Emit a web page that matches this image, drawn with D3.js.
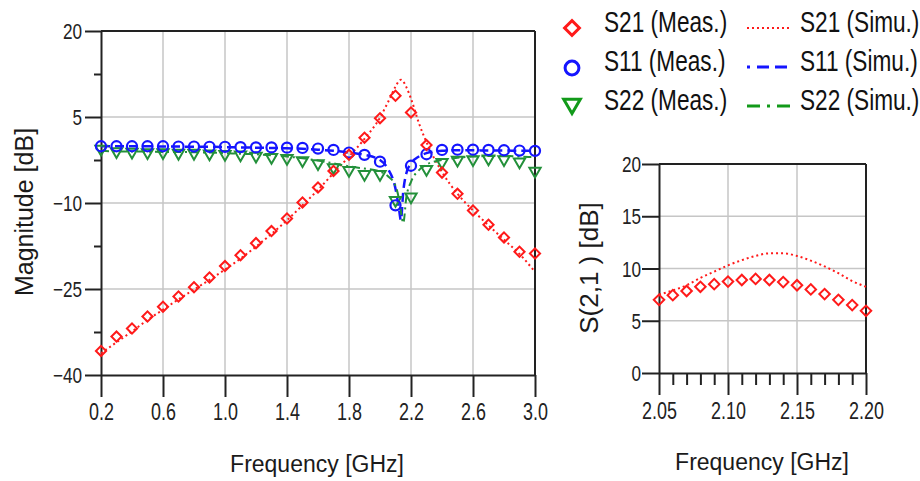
<!DOCTYPE html>
<html><head><meta charset="utf-8">
<script src="https://cdn.jsdelivr.net/npm/d3@7"></script>
<style>body{margin:0;background:#fff}svg{display:block;background:#fff}</style>
</head><body><svg id="c" width="920" height="481"></svg>
<script>
// ---------- main chart data ----------
const measFreq = [0.2,0.3,0.4,0.5,0.6,0.7,0.8,0.9,1.0,1.1,1.2,1.3,1.4,1.5,1.6,1.7,1.8,1.9,2.0,2.1,2.2,2.3,2.4,2.5,2.6,2.7,2.8,2.9,3.0];
const s21Meas = [-35.8,-33.3,-31.9,-29.8,-28.1,-26.3,-24.7,-23.0,-21.0,-19.1,-17.0,-14.9,-12.7,-9.9,-7.3,-4.4,-1.6,1.4,4.8,8.7,5.8,0.1,-4.7,-8.4,-11.3,-13.8,-16.0,-18.5,-18.8];
const s11Meas = [-0.1,-0.1,-0.1,-0.1,-0.1,-0.15,-0.15,-0.2,-0.2,-0.25,-0.3,-0.3,-0.35,-0.4,-0.5,-0.75,-1.2,-1.6,-2.8,-10.4,-3.5,-1.5,-0.75,-0.7,-0.7,-0.75,-0.8,-0.85,-0.9];
const s22Meas = [-0.6,-1.0,-1.1,-1.2,-1.2,-1.3,-1.3,-1.4,-1.5,-1.6,-1.8,-2.0,-2.2,-2.6,-3.1,-3.8,-4.3,-5.0,-5.0,-9.5,-8.9,-4.1,-2.9,-2.5,-2.4,-2.3,-2.4,-2.8,-4.4];

const simFreq = [0.2,0.3,0.4,0.5,0.6,0.7,0.8,0.9,1.0,1.1,1.2,1.3,1.4,1.5,1.6,1.7,1.8,1.9,2.0,2.05,2.1,2.12,2.135,2.15,2.17,2.2,2.25,2.3,2.4,2.5,2.6,2.7,2.8,2.9,3.0];
const s21Sim = [-36.2,-34.3,-32.4,-30.4,-28.6,-26.8,-25.1,-23.4,-21.6,-19.7,-17.6,-15.4,-13.0,-10.4,-7.7,-4.8,-1.9,1.2,4.9,7.5,10.3,11.2,11.5,11.2,10.2,8.2,4.0,0.6,-4.6,-8.4,-11.3,-13.9,-16.4,-18.9,-22.0];
const s11Sim = [-0.1,-0.1,-0.1,-0.1,-0.15,-0.15,-0.2,-0.2,-0.25,-0.3,-0.35,-0.4,-0.45,-0.55,-0.7,-0.9,-1.2,-1.6,-2.5,-4.0,-7.5,-10.5,-13.0,-8.0,-4.8,-3.1,-1.9,-1.3,-0.9,-0.8,-0.8,-0.85,-0.85,-0.9,-0.9];
const s22Sim = [-0.9,-1.0,-1.0,-1.05,-1.1,-1.1,-1.15,-1.2,-1.3,-1.4,-1.5,-1.7,-1.9,-2.2,-2.6,-3.1,-3.6,-4.0,-4.5,-5.3,-7.0,-9.0,-11.5,-13.5,-9.0,-6.3,-4.3,-3.3,-2.5,-2.1,-1.9,-1.8,-1.8,-1.9,-2.0];

const mainXTicks = [0.2,0.6,1.0,1.4,1.8,2.2,2.6,3.0];
const mainYTicks = [20,5,-10,-25,-40];
const mainYMinor = [12.5,-2.5,-17.5,-32.5];
const mainXGrid = [0.6,1.0,1.4,1.8,2.2,2.6];
const mainYGrid = [5,-10,-25];

// ---------- inset data ----------
const insetFreq = [2.05,2.06,2.07,2.08,2.09,2.10,2.11,2.12,2.13,2.14,2.15,2.16,2.17,2.18,2.19,2.20];
const insetMeas = [7.0,7.45,7.85,8.25,8.5,8.75,8.9,9.0,8.9,8.7,8.4,8.0,7.55,7.0,6.5,5.95];
const insetSim  = [7.5,7.9,8.4,9.1,9.7,10.3,10.8,11.2,11.45,11.45,11.2,10.75,10.2,9.55,8.8,8.25];
const insetXTicks = [2.05,2.10,2.15,2.20];
const insetXMinor = [2.06,2.07,2.08,2.09,2.11,2.12,2.13,2.14,2.16,2.17,2.18,2.19];
const insetYTicks = [0,5,10,15,20];
const insetXGrid = [2.10,2.15];
const insetYGrid = [5,10,15];

// ---------- legend ----------
const legendMeas = ['S21 (Meas.)','S11 (Meas.)','S22 (Meas.)'];
const legendSim = ['S21 (Simu.)','S11 (Simu.)','S22 (Simu.)'];

const RED = '#ff1a1a', BLUE = '#1515ff', GREEN = '#23903a', GREEN_L = '#129a1a';
const FONT = "'Liberation Sans', Arial, Helvetica, sans-serif";
const SX = 0.78;
const AX = '#222';

const svg = d3.select('#c').attr('font-family', FONT);

function styleAxis(g){
  g.attr('font-family', FONT);
  g.select('.domain').attr('stroke', AX).attr('stroke-width', 2);
  g.selectAll('.tick line').attr('stroke', AX).attr('stroke-width', 2);
}

function panel(opt){
  const {x, y, xGrid, yGrid} = opt;
  const [x0, x1] = x.domain(); const [y0, y1] = y.domain();
  const grid = svg.append('g').attr('stroke', '#c6c6c6').attr('stroke-width', 1.5);
  grid.selectAll('line.v').data(xGrid).join('line').attr('class','v')
    .attr('x1', d => x(d)).attr('x2', d => x(d)).attr('y1', y(y0)).attr('y2', y(y1));
  grid.selectAll('line.h').data(yGrid).join('line').attr('class','h')
    .attr('y1', d => y(d)).attr('y2', d => y(d)).attr('x1', x(x0)).attr('x2', x(x1));
  svg.append('line').attr('x1', x(x0)).attr('x2', x(x1)).attr('y1', y(y1)).attr('y2', y(y1))
    .attr('stroke', AX).attr('stroke-width', 2);
  svg.append('line').attr('x1', x(x1)).attr('x2', x(x1)).attr('y1', y(y1)).attr('y2', y(y0))
    .attr('stroke', AX).attr('stroke-width', 2);
}

function axes(opt){
  const {x, y, xTicks, xMinor, yTicks, yMinor, xFmt, xTickLen, yTickLen, xLabelY, yLabelX} = opt;
  const [x0] = x.domain(); const [y0] = y.domain();
  if (xMinor) {
    const gm = svg.append('g').attr('transform', `translate(0,${y(y0)})`)
      .call(d3.axisBottom(x).tickValues(xMinor).tickSize(12).tickSizeOuter(0).tickFormat(''));
    gm.select('.domain').remove();
    gm.selectAll('.tick line').attr('stroke', AX).attr('stroke-width', 2);
  }
  if (yMinor) {
    const gm = svg.append('g').attr('transform', `translate(${x(x0)},0)`)
      .call(d3.axisLeft(y).tickValues(yMinor).tickSize(7).tickSizeOuter(0).tickFormat(''));
    gm.select('.domain').remove();
    gm.selectAll('.tick line').attr('stroke', AX).attr('stroke-width', 2);
  }
  const gx = svg.append('g').attr('transform', `translate(0,${y(y0)})`)
    .call(d3.axisBottom(x).tickValues(xTicks).tickSize(xTickLen).tickSizeOuter(0).tickFormat(xFmt));
  styleAxis(gx);
  gx.selectAll('.tick text').attr('y', xLabelY).attr('dy', 0).attr('font-size', 23)
    .attr('fill', '#222').attr('transform', `scale(${SX},1)`);
  const gy = svg.append('g').attr('transform', `translate(${x(x0)},0)`)
    .call(d3.axisLeft(y).tickValues(yTicks).tickSize(yTickLen).tickSizeOuter(0));
  styleAxis(gy);
  gy.selectAll('.tick text').attr('x', yLabelX / SX).attr('dy', '0.35em').attr('font-size', 22)
    .attr('fill', '#222').attr('transform', `scale(${SX},1)`);
}

const diamond = d3.symbol().type(d3.symbolSquare);
const circle = d3.symbol().type(d3.symbolCircle);
const tri = d3.symbol().type(d3.symbolTriangle);

function markers(data, x, y, kind, color, size, sw){
  const g = svg.append('g').attr('fill', 'none').attr('stroke', color).attr('stroke-width', sw);
  let gen, rot;
  if (kind === 'diamond') { gen = diamond.size(size); rot = 45; }
  else if (kind === 'circle') { gen = circle.size(size); rot = 0; }
  else { gen = tri.size(size); rot = 180; }
  g.selectAll('path').data(data).join('path')
    .attr('d', gen)
    .attr('transform', d => `translate(${x(d[0])},${y(d[1])}) rotate(${rot})`);
}

function simLine(xs, ys, x, y, color, dash, sw){
  const line = d3.line().x(d => x(d[0])).y(d => y(d[1])).curve(d3.curveMonotoneX);
  svg.append('path').datum(d3.zip(xs, ys)).attr('d', line).attr('fill', 'none')
    .attr('stroke', color).attr('stroke-width', sw).attr('stroke-dasharray', dash);
}

// ================= MAIN =================
const x = d3.scaleLinear().domain([0.2, 3.0]).range([101, 535]);
const y = d3.scaleLinear().domain([-40, 20]).range([375, 31]);
panel({x, y, xGrid: mainXGrid, yGrid: mainYGrid});
axes({x, y, xTicks: mainXTicks, yTicks: mainYTicks, yMinor: mainYMinor, xFmt: d3.format('.1f'),
      xTickLen: 22, yTickLen: 16, xLabelY: 45, yLabelX: -19});

simLine(simFreq, s21Sim, x, y, RED, '2,3', 2);
simLine(simFreq, s11Sim, x, y, BLUE, '9,5', 2.5);
simLine(simFreq, s22Sim, x, y, GREEN, '8,4,2,4', 2);
markers(d3.zip(measFreq, s22Meas), x, y, 'tri', GREEN, 55, 2);
markers(d3.zip(measFreq, s11Meas), x, y, 'circle', BLUE, 80, 2.2);
markers(d3.zip(measFreq, s21Meas), x, y, 'diamond', RED, 52, 2);

svg.append('text').attr('transform', 'translate(33,212) rotate(-90)').attr('text-anchor', 'middle')
  .attr('font-size', 25).attr('fill', '#1a1a1a').text('Magnitude [dB]');
svg.append('text').attr('x', 317).attr('y', 472).attr('text-anchor', 'middle')
  .attr('font-size', 23).attr('fill', '#1a1a1a').text('Frequency [GHz]');

// ================= INSET =================
const xi = d3.scaleLinear().domain([2.05, 2.20]).range([659, 866]);
const yi = d3.scaleLinear().domain([0, 20]).range([373, 164]);
panel({x: xi, y: yi, xGrid: insetXGrid, yGrid: insetYGrid});
axes({x: xi, y: yi, xTicks: insetXTicks, xMinor: insetXMinor, yTicks: insetYTicks, xFmt: d3.format('.2f'),
      xTickLen: 22, yTickLen: 17, xLabelY: 46, yLabelX: -18});
simLine(insetFreq, insetSim, xi, yi, RED, '2,3', 2);
markers(d3.zip(insetFreq, insetMeas), xi, yi, 'diamond', RED, 55, 2);

svg.append('text').attr('transform', 'translate(598,268) rotate(-90)').attr('text-anchor', 'middle')
  .attr('font-size', 26).attr('fill', '#1a1a1a').text('S(2,1 ) [dB]');
svg.append('text').attr('x', 762).attr('y', 470).attr('text-anchor', 'middle')
  .attr('font-size', 23).attr('fill', '#1a1a1a').text('Frequency [GHz]');

// ================= LEGEND =================
const rowsText = [32, 71, 110];
const rowsMark = [28, 68, 104];
const rowsLine = [28, 67, 106];
const legColors = [RED, BLUE, GREEN_L];
const legKinds = ['diamond', 'circle', 'tri'];
const legSizes = [110, 150, 120];
const legDash = ['2,3', '3,7,12,6,12', '13,7,3,7,13'];
const leg = svg.append('g');
legendMeas.forEach((t, i) => {
  let gen, rot = 0;
  if (legKinds[i] === 'diamond') { gen = diamond.size(legSizes[i]); rot = 45; }
  else if (legKinds[i] === 'circle') { gen = circle.size(legSizes[i]); }
  else { gen = tri.size(legSizes[i]); rot = 180; }
  leg.append('path').attr('d', gen).attr('fill', 'none').attr('stroke', legColors[i]).attr('stroke-width', 3)
    .attr('transform', `translate(572,${rowsMark[i]}) rotate(${rot})`);
  leg.append('text').attr('transform', `translate(604,${rowsText[i]}) scale(${SX},1)`)
    .attr('font-size', 29).attr('fill', '#111').text(t);
  leg.append('line').attr('x1', 747).attr('x2', 790).attr('y1', rowsLine[i]).attr('y2', rowsLine[i])
    .attr('stroke', legColors[i]).attr('stroke-width', i === 0 ? 2 : 3).attr('stroke-dasharray', legDash[i]);
  leg.append('text').attr('transform', `translate(800,${rowsText[i]}) scale(${SX},1)`)
    .attr('font-size', 29).attr('fill', '#111').text(legendSim[i]);
});
</script></body></html>
